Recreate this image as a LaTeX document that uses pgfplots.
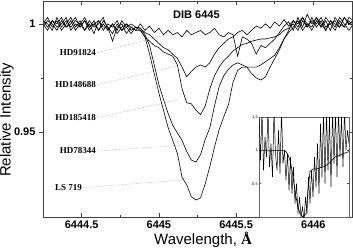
\documentclass[border=0pt]{standalone}
\usepackage{fontspec}
\setmainfont{Liberation Sans}
\newfontfamily\serif{Liberation Serif}
\usepackage{pgfplots}
\pgfplotsset{compat=1.18}
\usepackage{pgfplotstable}

% columns: a=HD91824 b=HD148688 c=HD185418 d=HD78344 e=LS 719
\pgfplotstableread{
x a b c d e
6444.25 1.000 1.0015 0.9985 1.000 1.0015
6444.28 1.003 0.9985 1.0015 0.997 1.000
6444.31 0.9985 1.0015 1.000 1.0015 0.997
6444.34 1.0015 1.000 0.997 0.9985 1.003
6444.37 0.997 1.003 1.0015 1.000 0.9985
6444.40 1.000 0.9985 0.9985 1.003 1.0015
6444.43 1.003 1.000 1.0015 0.997 0.9985
6444.46 0.9985 1.003 0.997 1.000 1.0015
6444.49 1.0015 0.9985 1.000 0.9985 1.000
6444.52 0.997 1.0015 1.003 1.0015 0.997
6444.55 1.000 0.9985 0.9985 0.997 1.0015
6444.58 0.9955 1.0015 1.000 1.000 0.9985
6444.61 1.0015 0.997 0.997 1.0015 1.000
6444.64 0.9985 1.000 1.0015 0.997 1.003
6444.67 0.9985 0.997 0.9985 1.000 0.997
6444.70 0.992 1.000 0.9955 0.9985 1.000
6444.73 0.9985 0.9955 1.000 1.0015 0.997
6444.76 1.000 0.9985 0.997 0.997 1.0015
6444.79 0.9955 1.000 1.000 0.9985 0.9985
6444.82 0.9985 0.997 0.9985 1.000 0.9955
6444.85 0.997 0.9985 0.997 0.9985 0.9985
6444.88 1.000 0.998 0.997 0.998 0.997
6444.91 0.997 0.996 0.994 0.995 0.994
6444.94 0.999 0.995 0.992 0.990 0.986
6444.97 0.996 0.993 0.990 0.981 0.977
6445.00 0.998 0.991 0.989 0.972 0.968
6445.03 0.995 0.989 0.987 0.965 0.960
6445.06 0.997 0.988 0.986 0.9585 0.952
6445.09 0.995 0.986 0.985 0.953 0.946
6445.12 0.996 0.984 0.981 0.9495 0.940
6445.15 0.994 0.980 0.970 0.946 0.929
6445.18 0.997 0.9755 0.9635 0.941 0.9255
6445.21 0.995 0.978 0.963 0.937 0.920
6445.24 0.996 0.980 0.960 0.936 0.9185
6445.27 0.997 0.981 0.958 0.9395 0.9195
6445.30 0.995 0.980 0.962 0.9465 0.926
6445.33 0.996 0.982 0.970 0.952 0.934
6445.36 0.998 0.986 0.976 0.962 0.943
6445.39 0.995 0.989 0.980 0.971 0.951
6445.42 0.994 0.991 0.983 0.976 0.957
6445.45 0.996 0.993 0.985 0.979 0.9625
6445.48 0.995 0.994 0.9875 0.981 0.973
6445.51 0.985 0.996 0.989 0.982 0.9785
6445.54 0.994 0.997 0.9905 0.981 0.980
6445.57 0.993 0.995 0.991 0.980 0.980
6445.60 0.991 0.997 0.992 0.977 0.980
6445.63 0.986 0.999 0.9925 0.975 0.980
6445.66 0.990 0.998 0.993 0.974 0.981
6445.69 0.989 1.000 0.993 0.9755 0.9825
6445.72 0.991 0.998 0.9935 0.980 0.984
6445.75 0.993 1.001 0.994 0.984 0.9855
6445.78 0.996 0.999 0.995 0.988 0.989
6445.81 0.999 1.002 0.997 0.993 0.993
6445.84 1.001 0.999 0.998 0.996 0.997
6445.87 0.997 1.0015 1.000 0.9985 1.0015
6445.90 1.003 1.000 0.997 1.0015 0.9985
6445.93 0.9985 1.003 1.0015 0.997 1.003
6445.96 1.0045 0.9985 0.9985 1.000 1.000
6445.99 1.000 1.0015 1.003 0.997 0.9985
6446.02 1.003 1.000 0.9985 1.0015 1.003
6446.05 0.9985 1.003 1.0015 0.9985 1.000
6446.08 1.0015 0.9985 0.997 1.003 0.997
6446.11 0.997 1.000 1.0015 1.000 1.0015
6446.14 1.003 1.0015 0.9985 0.997 1.000
6446.17 1.000 0.9985 1.003 1.0015 0.9985
6446.20 0.9985 1.003 1.000 0.9985 1.003
6446.23 1.003 1.000 0.997 1.0015 1.000
6446.26 1.0015 1.0015 1.000 0.9985 1.0015
}\spec

% inset: raw (noisy) spectrum
\pgfplotstableread{
x y
6440.00 1.55
6440.15 0.85
6440.30 1.60
6440.45 0.70
6440.60 1.20
6440.75 0.90
6440.90 1.60
6441.05 0.75
6441.20 1.10
6441.35 0.60
6441.50 1.60
6441.65 0.95
6441.80 0.70
6441.95 1.30
6442.10 0.65
6442.25 1.60
6442.40 0.80
6442.55 1.00
6442.70 0.55
6442.85 0.95
6443.00 0.40
6443.15 0.90
6443.30 0.35
6443.45 0.75
6443.60 0.20
6443.75 0.50
6443.90 0.05
6444.05 0.30
6444.20 0.00
6444.35 0.15
6444.50 -0.05
6444.65 0.30
6444.80 0.05
6444.95 0.60
6445.10 0.20
6445.25 0.70
6445.40 0.30
6445.55 0.90
6445.70 0.45
6445.85 1.10
6446.00 0.35
6446.15 1.40
6446.30 0.60
6446.45 1.60
6446.60 0.50
6446.75 1.60
6446.90 0.70
6447.05 1.50
6447.20 0.45
6447.35 1.60
6447.50 0.80
6447.65 1.60
6447.80 0.60
6447.95 1.60
6448.10 0.90
6448.25 1.50
6448.40 0.75
6448.55 1.60
6448.70 1.00
6448.85 1.30
6449.00 1.10
}\insetraw

% inset: smoothed spectrum
\pgfplotstableread{
x y
6440.0 1.00
6440.6 1.00
6441.1 0.99
6441.6 1.00
6442.1 1.00
6442.5 1.00
6442.7 0.98
6442.9 0.93
6443.1 0.85
6443.3 0.70
6443.5 0.50
6443.7 0.30
6443.9 0.15
6444.1 0.05
6444.4 0.00
6444.7 0.05
6444.9 0.40
6445.1 0.68
6445.4 0.72
6445.8 0.72
6446.1 0.74
6446.6 0.76
6447.1 0.82
6447.6 0.90
6448.1 0.93
6448.6 0.96
6449.0 0.98
}\insetsmooth

\tikzset{leader/.style={densely dotted, gray, line width=0.4pt},
  starname/.style={anchor=east, inner sep=1pt, font=\serif\bfseries\fontsize{9}{10}\selectfont}}

\begin{document}
\begin{tikzpicture}
\begin{axis}[
  name=main, at={(0pt,0pt)}, anchor=south west,
  scale only axis, width=309pt, height=216pt,
  xmin=6444.25, xmax=6446.25, ymin=0.9106, ymax=1.0106,
  xtick={6444.5,6445,6445.5,6446}, minor x tick num=1,
  ytick={0.95,1}, minor y tick num=1, ytick pos=right, yticklabels={},
  tick align=inside, major tick length=4pt, minor tick length=2.5pt,
  axis line style={black!75, line width=0.8pt}, tick style={black!75, line width=0.6pt},
  xticklabel style={font=\fontsize{11}{12}\selectfont\bfseries},
  xticklabel style={/pgf/number format/.cd, fixed, 1000 sep={}, assume math mode=true},
  xlabel={Wavelength, {\serif\bfseries Å}},
  xlabel style={at={(axis description cs:0.518,-0.106)}, anchor=center, font=\fontsize{15}{17}\selectfont},
]
\addplot[black, line width=0.6pt] table[x=x, y=a] {\spec};
\addplot[black, line width=0.6pt] table[x=x, y=b] {\spec};
\addplot[black, line width=0.6pt] table[x=x, y=c] {\spec};
\addplot[black, line width=0.6pt] table[x=x, y=d] {\spec};
\addplot[black, line width=0.6pt] table[x=x, y=e] {\spec};

\node[font=\bfseries\fontsize{11}{12}\selectfont] at (axis cs:6445.243,1.0042) {DIB 6445};

\draw[leader] (axis cs:6444.60,0.9866) -- (axis cs:6445.042,0.9949);
\node[starname] at (axis cs:6444.60,0.9866) {HD91824};
\draw[leader] (axis cs:6444.60,0.9718) -- (axis cs:6445.12,0.9806);
\node[starname] at (axis cs:6444.60,0.9718) {HD148688};
\draw[leader] (axis cs:6444.60,0.9565) -- (axis cs:6445.12,0.9648);
\node[starname] at (axis cs:6444.60,0.9565) {HD185418};
\draw[leader] (axis cs:6444.60,0.9412) -- (axis cs:6445.185,0.9440);
\node[starname] at (axis cs:6444.60,0.9412) {HD78344};
\draw[leader] (axis cs:6444.51,0.9241) -- (axis cs:6445.153,0.9278);
\node[starname] at (axis cs:6444.51,0.9241) {LS 719};
\end{axis}

% left axis with outward ticks and labels
\begin{axis}[
  at={(0pt,0pt)}, anchor=south west,
  scale only axis, width=309pt, height=216pt,
  xmin=6444.25, xmax=6446.25, ymin=0.9106, ymax=1.0106,
  axis x line=none, axis y line*=left,
  ytick={0.95,1}, minor y tick num=1,
  tick align=outside, major tick length=4pt, minor tick length=2.5pt,
  axis line style={black!75, line width=0.8pt, -}, tick style={black!75, line width=0.6pt},
  yticklabel style={font=\fontsize{11}{12}\selectfont\bfseries},
  yticklabel style={/pgf/number format/.cd, fixed, assume math mode=true},
  ylabel={Relative Intensity},
  ylabel style={at={(axis description cs:-0.117,0.45)}, anchor=center, font=\fontsize{15}{17}\selectfont},
]
\end{axis}

% inset
\begin{axis}[
  at={(216pt,0pt)}, anchor=south west,
  scale only axis, width=90pt, height=100pt,
  xmin=6440, xmax=6449, ymin=0, ymax=1.5,
  xtick=\empty, ytick={0.5,1,1.5},
  tick align=inside, major tick length=2pt,
  axis background/.style={fill=white},
  axis line style={black!60, line width=0.8pt}, tick style={black!75, line width=0.4pt},
  yticklabel style={font=\fontsize{4}{5}\selectfont, inner sep=1pt},
  yticklabel style={/pgf/number format/.cd, fixed, assume math mode=true},
]
\addplot[black, line width=0.5pt] table[x=x, y=y] {\insetraw};
\addplot[black, line width=0.6pt] table[x=x, y=y] {\insetsmooth};
\end{axis}

\pgfresetboundingbox
\path (-43pt,-33pt) rectangle (310pt,217pt);
\end{tikzpicture}
\end{document}
